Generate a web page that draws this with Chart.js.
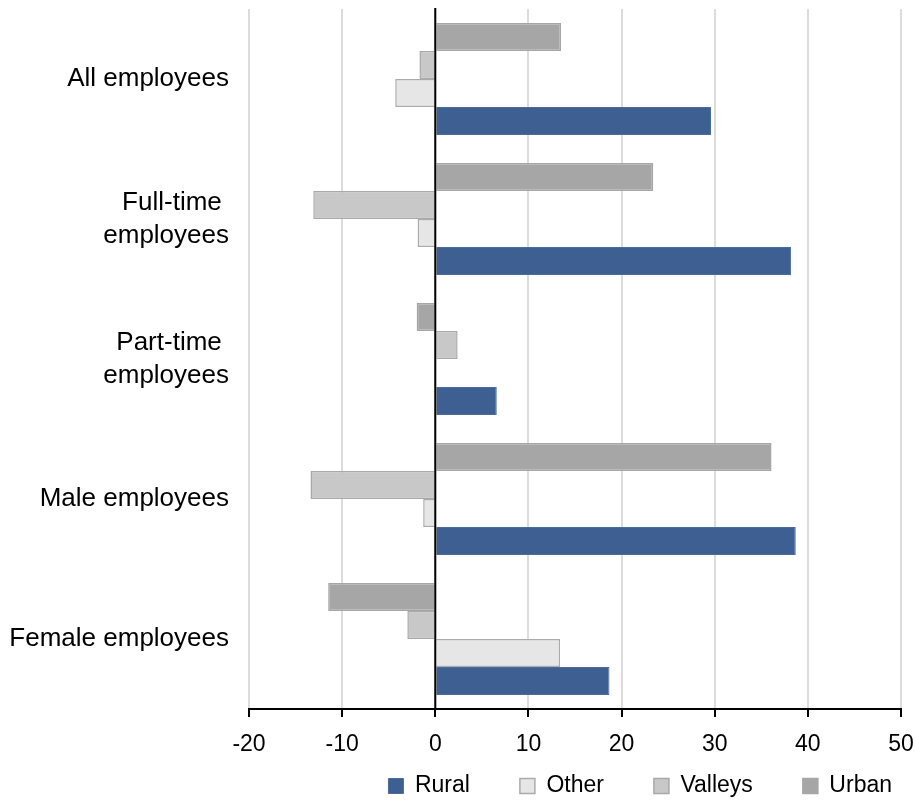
<!DOCTYPE html>
<html lang="en">
<head>
<meta charset="UTF-8">
<title>Employees by area</title>
<script src="https://cdn.jsdelivr.net/npm/chart.js"></script>
<style>
  html, body { margin: 0; padding: 0; background: #fff; }
  #wrap { width: 916px; height: 801px; }
</style>
</head>
<body>
<div id="wrap"><canvas id="chart"></canvas></div>
<script>
// categories (top to bottom) and series values
const categories = ["All employees", ["Full-time ", "employees"], ["Part-time ", "employees"], "Male employees", "Female employees"];
const rural   = [29.6, 38.2, 6.6, 38.7, 18.7];
const other   = [-4.3, -1.9, 0, -1.3, 13.4];
const valleys = [-1.7, -13.1, 2.4, -13.4, -3.0];
const urban   = [13.5, 23.4, -2.0, 36.1, -11.5];
const xMin = -20, xMax = 50, xStep = 10;

const FONT = "'Liberation Sans', Arial, sans-serif";

// black line at x = 0, drawn over the bars
const zeroLine = {
  id: 'zeroLine',
  afterDatasetsDraw(chart) {
    const x = chart.scales.x.getPixelForValue(0);
    const { top, bottom } = chart.chartArea;
    const ctx = chart.ctx;
    ctx.save();
    ctx.strokeStyle = '#000';
    ctx.lineWidth = 2;
    ctx.beginPath();
    ctx.moveTo(x, top - 1);
    ctx.lineTo(x, bottom);
    ctx.stroke();
    ctx.restore();
  }
};

// the legend padding also pushes the row down, so move the box back up / right
const legendShift = {
  id: 'legendShift',
  afterLayout(chart) {
    const lg = chart.legend;
    lg.left += 41;
    lg.right += 41;
    lg.top -= 36.5;
    lg.bottom -= 36.5;
  }
};

const ctx = document.getElementById('chart').getContext('2d');
new Chart(ctx, {
  type: 'bar',
  data: {
    labels: categories,
    datasets: [
      { label: 'Urban',   data: urban,   backgroundColor: '#a6a6a6', borderColor: '#a6a6a6', borderWidth: 1.5 },
      { label: 'Valleys', data: valleys, backgroundColor: '#c8c8c8', borderColor: '#a9a9a9', borderWidth: 1.5 },
      { label: 'Other',   data: other,   backgroundColor: '#e6e6e6', borderColor: '#ababab', borderWidth: 1.5 },
      { label: 'Rural',   data: rural,   backgroundColor: '#3d5f91', borderColor: '#4a6b9b', borderWidth: 1 }
    ]
  },
  options: {
    indexAxis: 'y',
    responsive: true,
    maintainAspectRatio: false,
    animation: false,
    datasets: { bar: { categoryPercentage: 0.8, barPercentage: 1.0 } },
    layout: { padding: { top: 9, right: 15, bottom: -43, left: 10 } },
    plugins: {
      tooltip: { enabled: false },
      legend: {
        position: 'bottom',
        align: 'end',
        reverse: true,
        labels: {
          boxWidth: 15,
          boxHeight: 15,
          padding: 50,
          color: '#000',
          font: { family: FONT, size: 23 }
        }
      }
    },
    scales: {
      x: {
        type: 'linear',
        min: xMin,
        max: xMax,
        ticks: {
          stepSize: xStep,
          color: '#000',
          padding: 14,
          font: { family: FONT, size: 23 }
        },
        grid: {
          color: '#dcdcdc',
          lineWidth: 2,
          drawTicks: true,
          tickLength: 8,
          tickColor: '#000',
          tickWidth: 2
        },
        border: { display: true, color: '#000', width: 2 },
        afterFit(scale) {
          scale.height = 52;
          scale.paddingLeft = 0;
          scale.paddingRight = 0;
        }
      },
      y: {
        ticks: {
          color: '#000',
          padding: 20,
          font: { family: FONT, size: 26, lineHeight: 1.27 }
        },
        grid: { display: false, drawTicks: false },
        border: { display: false },
        afterFit(scale) {
          scale.width = 239;
          scale.paddingTop = 0;
          scale.paddingBottom = 0;
        }
      }
    }
  },
  plugins: [zeroLine, legendShift]
});
</script>
</body>
</html>
